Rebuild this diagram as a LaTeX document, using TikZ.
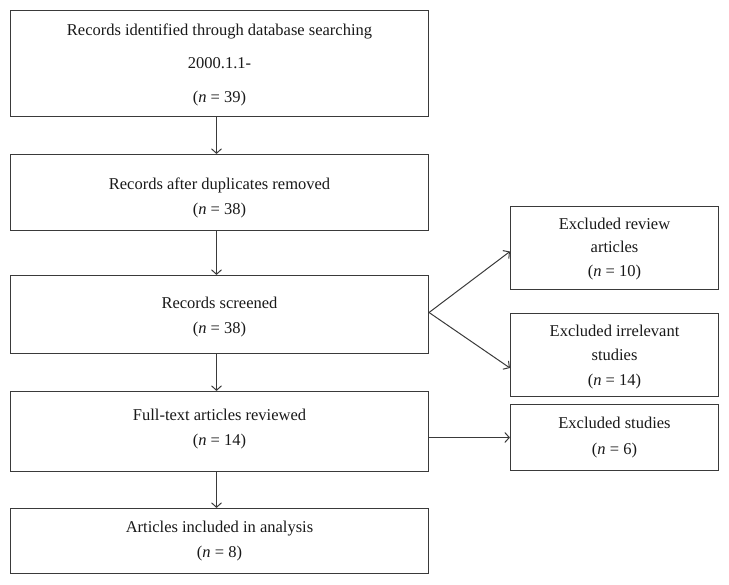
\documentclass[tikz,border=0pt]{standalone}
\usepackage{fontspec}
\setmainfont{Liberation Serif}
\usetikzlibrary{arrows.meta,calc}
\definecolor{ln}{HTML}{3A3A3A}
\begin{document}
\begin{tikzpicture}[x=1pt,y=-1pt,
  box/.style={draw=ln,line width=1.1pt,inner sep=0pt},
  mainbox/.style={box,minimum width=418pt},
  sidebox/.style={box,minimum width=208pt},
  txt/.style={inner sep=0pt,align=center,text=black!90,
    font=\fontsize{16.5}{25}\selectfont},
  arr/.style={draw=ln,line width=1pt,-{Straight Barb[length=4.5pt,width=10pt]}}]
\useasboundingbox (0,0) rectangle (729,585);
% boxes
\node[mainbox,minimum height=106pt] (b1) at (219.5,63.5) {};
\node[mainbox,minimum height=76pt] (b2) at (219.5,192.5) {};
\node[mainbox,minimum height=78pt] (b3) at (219.5,314.5) {};
\node[mainbox,minimum height=80pt] (b4) at (219.5,431.5) {};
\node[mainbox,minimum height=65pt] (b5) at (219.5,541) {};
\node[sidebox,minimum height=83pt] (r1) at (614.5,248) {};
\node[sidebox,minimum height=83pt] (r2) at (614.5,355) {};
\node[sidebox,minimum height=66pt] (r3) at (614.5,437.5) {};
% texts
\node[txt,font=\fontsize{16.5}{33.5}\selectfont] (t1) at ($(b1)+(0,1)$)
  {Records identified through database searching\\2000.1.1-\\(\textit{n} = 39)};
\node[txt] (t2) at ($(b2)+(0,5)$) {Records after duplicates removed\\(\textit{n} = 38)};
\node[txt] (t3) at ($(b3)+(0,3)$) {Records screened\\(\textit{n} = 38)};
\node[txt] (t4) at ($(b4)+(0,-2)$) {Full-text articles reviewed\\(\textit{n} = 14)};
\node[txt] (t5) at ($(b5)+(0,0)$) {Articles included in analysis\\(\textit{n} = 8)};
\node[txt,font=\fontsize{16.5}{23.5}\selectfont] (s1) at ($(r1)+(0,1)$) {Excluded review\\articles\\(\textit{n} = 10)};
\node[txt,font=\fontsize{16.5}{24.5}\selectfont] (s2) at ($(r2)+(0,2)$) {Excluded irrelevant\\studies\\(\textit{n} = 14)};
\node[txt,font=\fontsize{16.5}{26}\selectfont] (s3) at ($(r3)+(0,0)$) {Excluded studies\\(\textit{n} = 6)};
% connectors
\coordinate (ax) at (216.5,0);
\draw[arr] (b1.south -| ax) -- (b2.north -| ax);
\draw[arr] (b2.south -| ax) -- (b3.north -| ax);
\draw[arr] (b3.south -| ax) -- (b4.north -| ax);
\draw[arr] (b4.south -| ax) -- (b5.north -| ax);
\coordinate (fan) at ($(b3.east)+(0,-2)$);
\draw[arr] (fan) -- ($(r1.west)+(0,3.5)$);
\draw[arr] (fan) -- ($(r2.west)+(0,13)$);
\draw[arr] (b4.east |- r3.west) -- (r3.west);
\end{tikzpicture}
\end{document}
